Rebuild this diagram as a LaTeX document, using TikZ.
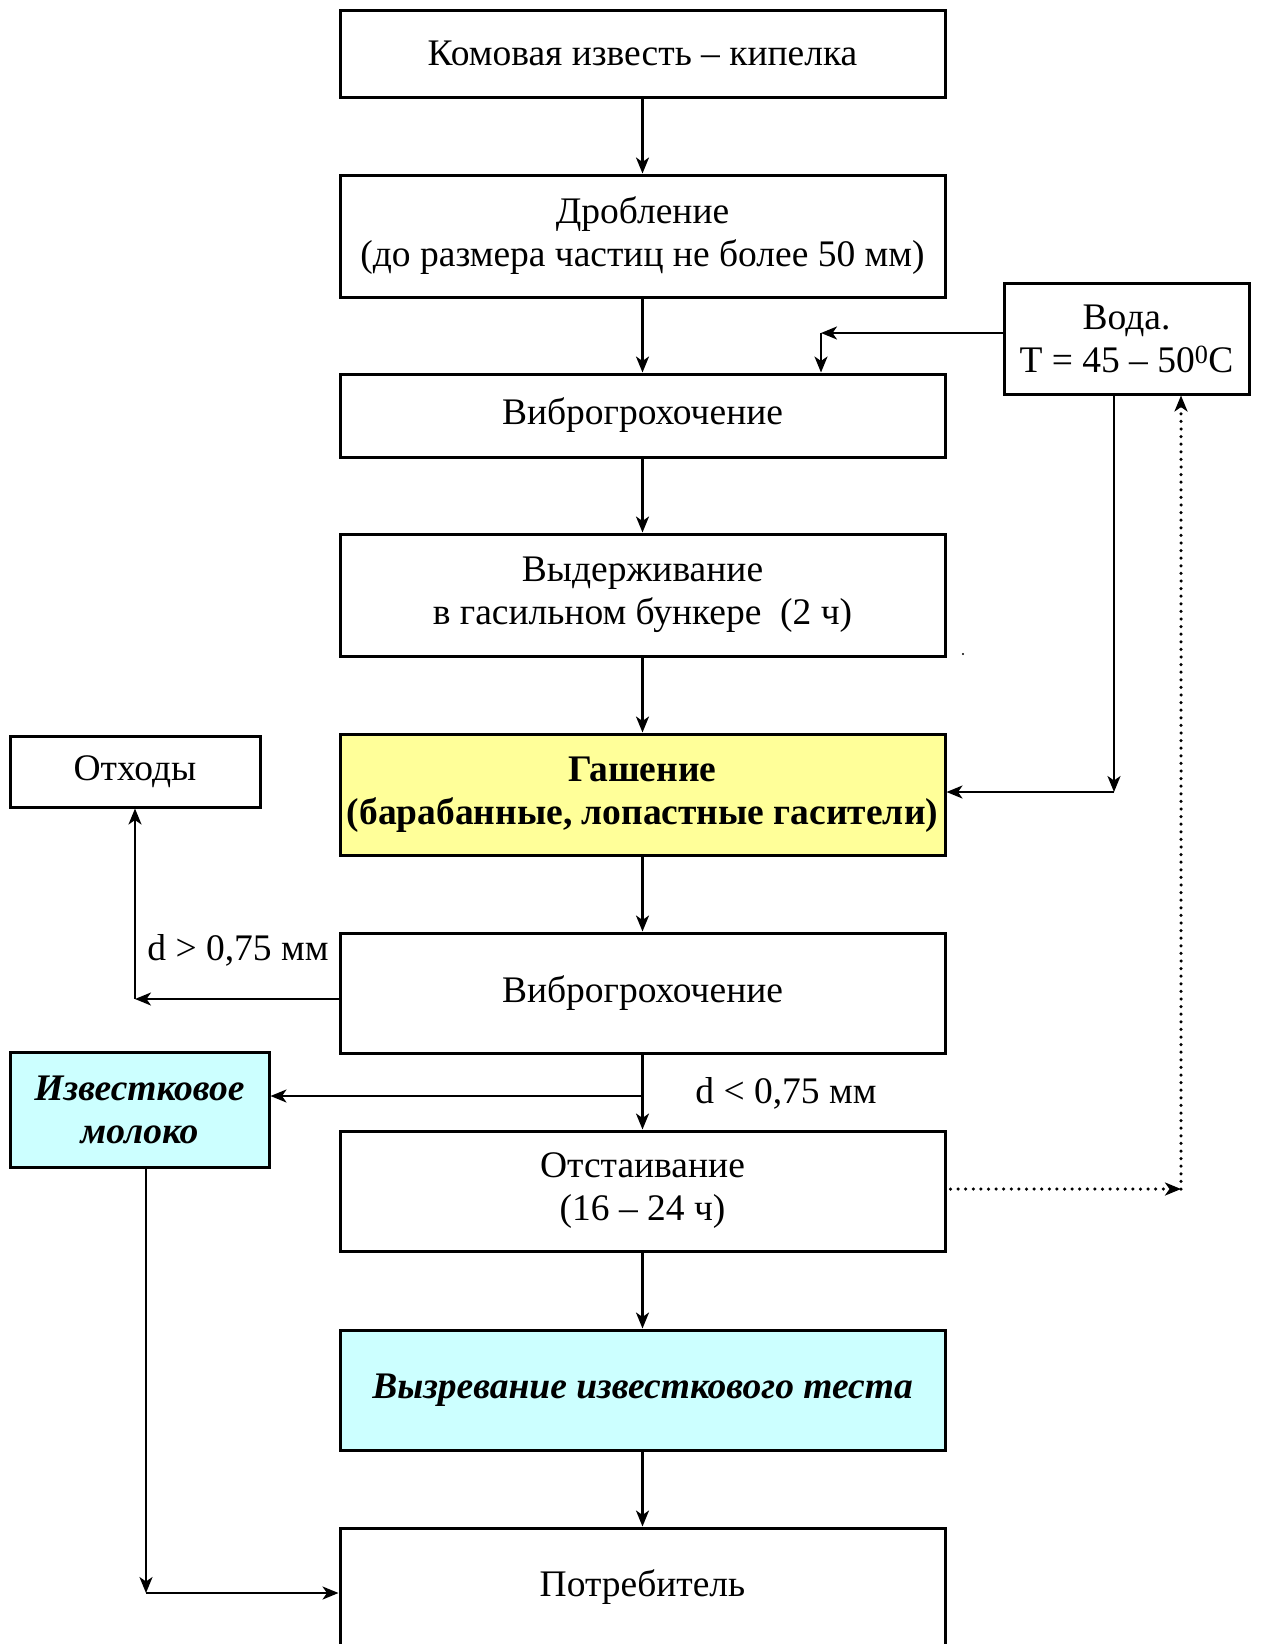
\documentclass[tikz,border=0pt]{standalone}
\usepackage{fontspec}
\setmainfont{Liberation Serif}
\usetikzlibrary{arrows.meta}

\definecolor{boxyellow}{HTML}{FFFF99}
\definecolor{boxcyan}{HTML}{CCFFFF}

\newcommand\chartfont{\fontsize{37.5}{43}\selectfont}

\tikzset{
  stagebox/.style={draw, line width=3pt, minimum width=605pt, inner sep=0pt,
    align=center, font=\chartfont},
  sidebox/.style={draw, line width=3pt, inner sep=0pt, align=center,
    font=\chartfont},
  lbl/.style={inner sep=0pt, font=\chartfont},
  arr/.style={line width=2.3pt, -{Stealth[length=16pt, width=13pt, inset=4.5pt]}},
  dotarr/.style={line width=3.5pt, line cap=round, dash pattern=on 0pt off 7.6pt,
    -{Stealth[length=16pt, width=13pt, inset=4.5pt]}},
}

\begin{document}
\begin{tikzpicture}[x=1pt, y=-1pt]
\useasboundingbox (0,0) rectangle (1262,1644);

% main process chain
\node[stagebox, minimum height=87pt]  (b1) at (642.5,53.5) {Комовая известь – кипелка};
\node[stagebox, minimum height=122pt] (b2) at (642.5,236) {Дробление\\(до размера частиц не более 50 мм)};
\node[stagebox, minimum height=83pt]  (b3) at (642.5,415.5) {Виброгрохочение};
\node[stagebox, minimum height=122pt] (b4) at (642.5,595) {Выдерживание\\в гасильном бункере\ \ (2 ч)};
\node[stagebox, minimum height=121pt, fill=boxyellow, font=\chartfont\bfseries] (b5) at (642.5,794.5) {Гашение\\(барабанные, лопастные гасители)};
\node[stagebox, minimum height=120pt] (b6) at (642.5,993) {Виброгрохочение};
\node[stagebox, minimum height=120pt] (b7) at (642.5,1191) {Отстаивание\\(16 – 24 ч)};
\node[stagebox, minimum height=120pt, fill=boxcyan, font=\chartfont\bfseries\itshape] (b8) at (642.5,1390) {Вызревание известкового теста};
\node[stagebox, minimum height=118pt] (b9) at (642.5,1587) {Потребитель};

% side boxes
\node[sidebox, minimum width=245pt, minimum height=111pt] (voda) at (1126.5,338.5) {Вода.\\T = 45 – 50\textsuperscript{0}C};
\node[sidebox, minimum width=250pt, minimum height=71pt] (otx) at (135,771.5) {Отходы};
\node[sidebox, minimum width=259pt, minimum height=115pt, fill=boxcyan, font=\chartfont\bfseries\itshape] (mol) at (139.5,1109.5) {Известковое\\молоко};

% sieve labels
\node[lbl] (lbig) at (238,950) {d > 0,75 мм};
\node[lbl] (lsmall) at (786,1093) {d < 0,75 мм};

% bend points
\coordinate (wc) at (821,333);
\coordinate (wd) at (1114,792);
\coordinate (dc) at (1181,1189);
\coordinate (oc) at (135,999);
\coordinate (mj) at (642.5,1096);
\coordinate (mc) at (146,1593);

% chain arrows
\draw[arr] (b1.south) -- (b2.north);
\draw[arr] (b2.south) -- (b3.north);
\draw[arr] (b3.south) -- (b4.north);
\draw[arr] (b4.south) -- (b5.north);
\draw[arr] (b5.south) -- (b6.north);
\draw[arr] (b6.south) -- (b7.north);
\draw[arr] (b7.south) -- (b8.north);
\draw[arr] (b8.south) -- (b9.north);

% water supply
\draw[arr] (voda.west |- wc) -- (wc);
\draw[arr] (wc) -- (wc |- b3.north);
\draw[arr] (voda.south -| wd) -- (wd);
\draw[arr] (wd) -- (wd -| b5.east);

% water return from settling
\draw[dotarr] (b7.east |- dc) ++(4,0) -- (dc);
\draw[dotarr] (dc) -- (dc |- voda.south);

% coarse fraction to waste
\draw[arr] (b6.west |- oc) -- (oc);
\draw[arr] (oc) -- (otx.south);

% lime milk branch
\draw[arr] (mj) -- (mj -| mol.east);
\draw[arr] (mol.south -| mc) -- (mc);
\draw[arr] (mc) -- (mc -| b9.west);

% small speck
\fill (963,654) circle (1.2pt);
\end{tikzpicture}
\end{document}
